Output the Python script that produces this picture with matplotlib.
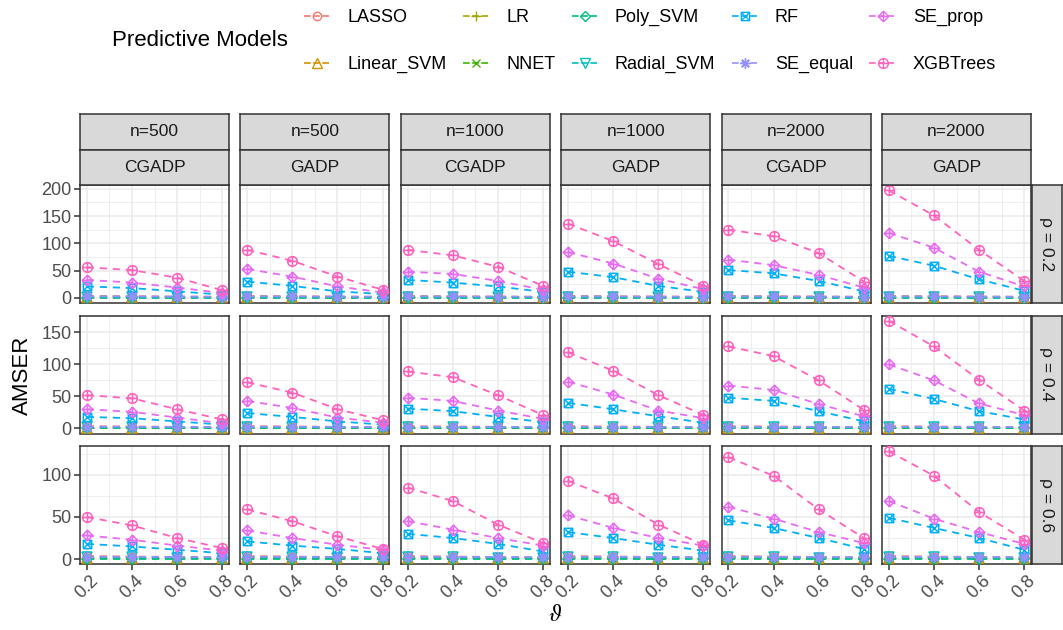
import numpy as np
import matplotlib.pyplot as plt
from matplotlib.path import Path
from matplotlib.lines import Line2D
from matplotlib.ticker import MultipleLocator, FixedLocator

plt.rcParams['font.family'] = ['Liberation Sans', 'DejaVu Sans']

theta = [0.2, 0.4, 0.6, 0.8]
n_labels = ['n=500', 'n=500', 'n=1000', 'n=1000', 'n=2000', 'n=2000']
design_labels = ['CGADP', 'GADP', 'CGADP', 'GADP', 'CGADP', 'GADP']
rho_labels = ['ρ = 0.2', 'ρ = 0.4', 'ρ = 0.6']
models = ['LASSO', 'Linear_SVM', 'LR', 'NNET', 'Poly_SVM', 'Radial_SVM',
          'RF', 'SE_equal', 'SE_prop', 'XGBTrees']
colors = ['#F8766D', '#D89000', '#A3A500', '#39B600', '#00BF7D', '#00BFC4',
          '#00B0F6', '#9590FF', '#E76BF3', '#FF62BC']

# big three models: one list per facet column, one block per rho
xgb_rho02 = [[56, 51, 37, 14], [88, 68, 39, 15], [88, 78, 57, 22],
             [136, 104, 62, 22], [125, 113, 82, 30], [197, 151, 88, 31]]
xgb_rho04 = [[52, 47, 30, 14], [72, 56, 30, 13], [89, 80, 52, 21],
             [119, 90, 52, 21], [128, 113, 75, 29], [168, 128, 76, 28]]
xgb_rho06 = [[50, 40, 25, 13], [59, 45, 27, 12], [85, 69, 41, 19],
             [93, 72, 41, 17], [121, 99, 59, 25], [128, 99, 56, 23]]

sep_rho02 = [[33, 28, 19, 9], [53, 39, 21, 10], [48, 44, 31, 15],
             [84, 63, 35, 16], [70, 60, 42, 19], [119, 92, 48, 21]]
sep_rho04 = [[30, 26, 17, 8], [43, 32, 17, 9], [48, 43, 28, 15],
             [73, 53, 28, 16], [67, 60, 38, 19], [100, 75, 39, 21]]
sep_rho06 = [[28, 23, 16, 10], [34, 25, 17, 11], [45, 35, 25, 16],
             [52, 37, 25, 16], [62, 48, 32, 19], [69, 48, 32, 18]]

rf_rho02 = [[21, 18, 12, 6], [30, 22, 12, 7], [33, 28, 21, 11],
            [48, 38, 22, 11], [51, 45, 31, 12], [77, 59, 34, 13]]
rf_rho04 = [[18, 16, 11, 6], [24, 18, 11, 6], [31, 27, 18, 10],
            [40, 30, 19, 9], [48, 43, 27, 11], [62, 46, 27, 14]]
rf_rho06 = [[18, 15, 11, 7], [21, 16, 12, 7], [30, 25, 18, 9],
            [32, 25, 17, 10], [46, 37, 25, 12], [49, 37, 25, 11]]

# small models, nearly flat near zero in every facet
lasso = [3.5, 3.0, 2.5, 2.0]
linear_svm = [1.0, 1.0, 1.0, 1.0]
lr = [2.0, 2.0, 1.5, 1.5]
nnet = [0.8, 0.8, 0.8, 0.8]
poly_svm = [0.5, 0.5, 0.5, 0.5]
radial_svm = [2.2, 2.0, 1.8, 1.6]
se_equal = [2.8, 2.6, 2.4, 2.2]

xgb_all = [xgb_rho02, xgb_rho04, xgb_rho06]
sep_all = [sep_rho02, sep_rho04, sep_rho06]
rf_all = [rf_rho02, rf_rho04, rf_rho06]
small = {'LASSO': lasso, 'Linear_SVM': linear_svm, 'LR': lr, 'NNET': nnet,
         'Poly_SVM': poly_svm, 'Radial_SVM': radial_svm, 'SE_equal': se_equal}

# markers like ggplot shapes 1..10
M, L = Path.MOVETO, Path.LINETO
sq = Path([(-1, -1), (1, -1), (1, 1), (-1, 1), (-1, -1)], [M, L, L, L, L])
diag = Path([(-1, -1), (1, 1), (-1, 1), (1, -1)], [M, L, M, L])
dia = Path([(0, -1), (1, 0), (0, 1), (-1, 0), (0, -1)], [M, L, L, L, L])
plus = Path([(-1, 0), (1, 0), (0, -1), (0, 1)], [M, L, M, L])
sq_cross = Path.make_compound_path(sq, diag)
dia_plus = Path.make_compound_path(dia, plus)
circ_plus = Path.make_compound_path(Path.unit_circle(), plus)

markers = {'LASSO': ('o', 6), 'Linear_SVM': ('^', 6.5), 'LR': ('+', 7.5),
           'NNET': ('x', 6), 'Poly_SVM': ('D', 5.5), 'Radial_SVM': ('v', 6.5),
           'RF': (sq_cross, 6), 'SE_equal': ((8, 2, 0), 7.5),
           'SE_prop': (dia_plus, 7.5), 'XGBTrees': (circ_plus, 7)}


def series(model, r, c):
    if model == 'XGBTrees':
        return xgb_all[r][c]
    if model == 'SE_prop':
        return sep_all[r][c]
    if model == 'RF':
        return rf_all[r][c]
    return small[model]


W, H = 1063, 630
fig = plt.figure(figsize=(W / 100, H / 100), dpi=100)


def box(x0, y0, w, h):
    return [x0 / W, 1 - (y0 + h) / H, w / W, h / H]


pw, ph = 149, 118
lefts = [80 + i * 160.4 for i in range(6)]
tops = [185, 315.5, 446]
grid_c = '#EBEBEB'
edge_c = '#333333'
tick_c = '#4D4D4D'


def strip(x0, y0, w, h, label, rot=0):
    sax = fig.add_axes(box(x0, y0, w, h))
    sax.set_facecolor('#D9D9D9')
    sax.set_xticks([])
    sax.set_yticks([])
    for s in sax.spines.values():
        s.set_color(edge_c)
        s.set_linewidth(1.1)
    sax.text(0.5, 0.5, label, rotation=rot, ha='center', va='center',
             fontsize=12.5, color='#1A1A1A', transform=sax.transAxes)


for r in range(3):
    vals = [v for c in range(6) for m in models for v in series(m, r, c)]
    lo, hi = min(vals), max(vals)
    pad = (hi - lo) * 0.05
    for c in range(6):
        ax = fig.add_axes(box(lefts[c], tops[r], pw, ph))
        ax.set_xlim(0.17, 0.83)
        ax.set_ylim(lo - pad, hi + pad)
        ax.xaxis.set_major_locator(FixedLocator(theta))
        ax.xaxis.set_minor_locator(FixedLocator([0.3, 0.5, 0.7]))
        ax.yaxis.set_major_locator(MultipleLocator(50))
        ax.yaxis.set_minor_locator(MultipleLocator(25))
        ax.grid(which='major', color=grid_c, lw=1.1, zorder=0)
        ax.grid(which='minor', color=grid_c, lw=0.55, zorder=0)
        ax.set_axisbelow(True)
        for s in ax.spines.values():
            s.set_color(edge_c)
            s.set_linewidth(1.1)
        ax.tick_params(which='minor', length=0)
        ax.tick_params(which='major', color=edge_c, width=1.1, length=4,
                       labelcolor=tick_c, labelsize=13, pad=2)
        if c == 0:
            ax.set_yticklabels([f'{int(t)}' for t in ax.get_yticks()])
        else:
            ax.tick_params(axis='y', length=0, labelleft=False)
        if r == 2:
            ax.set_xticks(theta)
            ax.set_xticklabels(['0.2', '0.4', '0.6', '0.8'], rotation=45, ha='center')
        else:
            ax.tick_params(axis='x', length=0, labelbottom=False)

        for m, col in zip(models, colors):
            ax.plot(theta, series(m, r, c), color=col, lw=1.3,
                    dashes=(4, 3.2), zorder=2)
        for m, col in zip(models, colors):
            mk, ms = markers[m]
            ax.plot(theta, series(m, r, c), ls='none', marker=mk, ms=ms,
                    mfc='none', mec=col, mew=1.1, zorder=3)

    strip(1031.5, tops[r], 30, ph, rho_labels[r], rot=-90)

# top strips
for c in range(6):
    strip(lefts[c], 114, pw, 36, n_labels[c])
    strip(lefts[c], 150, pw, 35, design_labels[c])

fig.text(22 / W, 1 - 375 / H, 'AMSER', rotation=90, ha='center', va='center',
         fontsize=16)
fig.text(555 / W, 1 - 615 / H, r'$\vartheta$', ha='center', va='center',
         fontsize=17, math_fontfamily='stix')

# legend
handles = []
for m, col in zip(models, colors):
    mk, ms = markers[m]
    handles.append(Line2D([0], [0], color=col, lw=1.2, dashes=(4, 1.5),
                          marker=mk, ms=ms, mfc='none', mec=col, mew=1.0))
fig.legend(handles, models, ncol=5, loc='upper left',
           bbox_to_anchor=(304 / W, 1 - 9 / H), frameon=False, fontsize=13,
           handlelength=1.45, handletextpad=0.95, columnspacing=0.9,
           labelspacing=1.66, borderpad=0, borderaxespad=0)
fig.text(112 / W, 1 - 40 / H, 'Predictive Models', ha='left', va='center',
         fontsize=16)

fig.savefig('out.png', dpi=100)
